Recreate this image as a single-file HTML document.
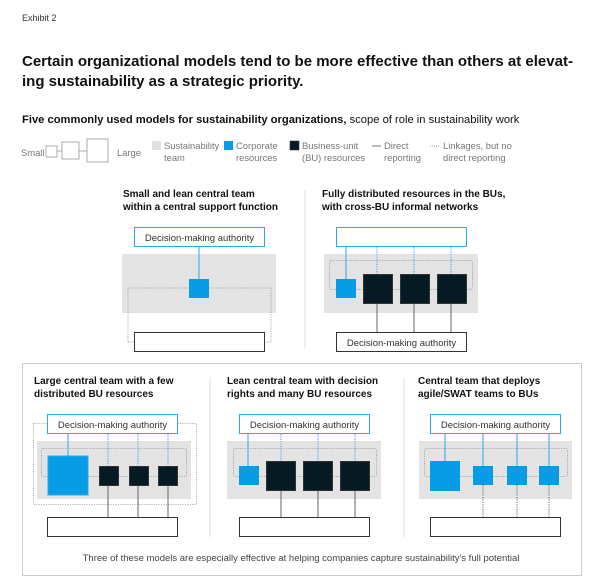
<!DOCTYPE html>
<html><head><meta charset="utf-8"><style>
html,body{margin:0;padding:0;background:#fff}
svg{display:block;font-family:"Liberation Sans",sans-serif}
.t{font-size:10px;font-weight:bold;fill:#111}
.d{font-size:9.5px;fill:#333}
.l{font-size:9.4px;fill:#777}
</style></head><body>
<svg width="600" height="587" viewBox="0 0 600 587">
<text x="22" y="21" font-size="9" fill="#333">Exhibit 2</text>
<text x="22" y="66" font-size="15" font-weight="bold" fill="#111">Certain organizational models tend to be more effective than others at elevat-</text>
<text x="22" y="86" font-size="15" font-weight="bold" fill="#111">ing sustainability as a strategic priority.</text>
<text x="22" y="123" font-size="11.2" fill="#111"><tspan font-weight="bold">Five commonly used models for sustainability organizations,</tspan> scope of role in sustainability work</text>
<!-- legend -->
<g fill="none" stroke="#999" stroke-width="0.8">
<rect x="46" y="146" width="11" height="11"/><line x1="57" y1="151" x2="62" y2="151"/>
<rect x="62" y="142" width="17" height="17"/><line x1="79" y1="151" x2="87" y2="151"/>
<rect x="87" y="139" width="21" height="23"/>
</g>
<text x="21" y="156" class="l">Small</text>
<text x="117" y="156" class="l">Large</text>
<rect x="152" y="141" width="9" height="9" fill="#e0e0e0"/>
<text x="164" y="149" class="l">Sustainability</text><text x="164" y="161" class="l">team</text>
<rect x="224" y="141" width="9" height="9" fill="#069ce6"/>
<text x="236" y="149" class="l">Corporate</text><text x="236" y="161" class="l">resources</text>
<rect x="290" y="141" width="9" height="9" fill="#061a24" stroke="#333" stroke-width="0.6"/>
<text x="302" y="149" class="l">Business-unit</text><text x="302" y="161" class="l">(BU) resources</text>
<line x1="372" y1="146" x2="381" y2="146" stroke="#555" stroke-width="0.8"/>
<text x="384" y="149" class="l">Direct</text><text x="384" y="161" class="l">reporting</text>
<line x1="430" y1="146" x2="440" y2="146" stroke="#888" stroke-width="0.8" stroke-dasharray="1,1"/>
<text x="443" y="149" class="l">Linkages, but no</text><text x="443" y="161" class="l">direct reporting</text>

<!-- Diagram 1 -->
<text x="123" y="197" class="t">Small and lean central team</text>
<text x="123" y="210" class="t">within a central support function</text>
<rect x="122" y="254" width="154" height="59" fill="#e3e3e3"/>
<path d="M128 342 V288 H271 V342 H265" fill="none" stroke="#999" stroke-width="0.8" stroke-dasharray="1.2,1.2"/>
<line x1="128" y1="342" x2="134" y2="342" stroke="#999" stroke-width="0.8" stroke-dasharray="1.2,1.2"/>
<line x1="199" y1="247" x2="199" y2="279" stroke="#2aa9e8" stroke-width="1"/>
<rect x="189" y="279" width="20" height="19" fill="#069ce6"/>
<rect x="134.5" y="227.5" width="130" height="19" fill="#fff" stroke="#2aa9e8"/>
<text x="199.5" y="241" text-anchor="middle" class="d">Decision-making authority</text>
<rect x="134.5" y="332.5" width="130" height="19" fill="#fff" stroke="#333"/>
<line x1="305" y1="190" x2="305" y2="348" stroke="#ddd"/>

<!-- Diagram 2 -->
<text x="322" y="197" class="t">Fully distributed resources in the BUs,</text>
<text x="322" y="210" class="t">with cross-BU informal networks</text>
<rect x="324" y="254" width="154" height="59" fill="#e3e3e3"/>
<rect x="329.5" y="260.5" width="143" height="29" rx="2" fill="none" stroke="#999" stroke-width="0.8" stroke-dasharray="1.2,1.2"/>
<line x1="346" y1="247" x2="346" y2="279" stroke="#2aa9e8"/>
<g stroke="#2aa9e8" stroke-dasharray="1.2,1.2"><line x1="377" y1="247" x2="377" y2="274"/><line x1="414" y1="247" x2="414" y2="274"/><line x1="451" y1="247" x2="451" y2="274"/></g>
<g stroke="#666"><line x1="377" y1="304" x2="377" y2="332"/><line x1="414" y1="304" x2="414" y2="332"/><line x1="451" y1="304" x2="451" y2="332"/></g>
<rect x="336" y="279" width="20" height="19" fill="#069ce6"/>
<g fill="#061a24" stroke="#333"><rect x="363.5" y="274.5" width="29" height="29"/><rect x="400.5" y="274.5" width="29" height="29"/><rect x="437.5" y="274.5" width="29" height="29"/></g>
<rect x="336.5" y="227.5" width="130" height="19" fill="#fff" stroke="#2aa9e8"/>
<rect x="336.5" y="332.5" width="130" height="19" fill="#fff" stroke="#333"/>
<text x="401.5" y="346" text-anchor="middle" class="d">Decision-making authority</text>

<!-- bottom panel -->
<rect x="22.5" y="363.5" width="559" height="212" fill="none" stroke="#ccc"/>
<line x1="210" y1="377" x2="210" y2="537" stroke="#ddd"/>
<line x1="404" y1="377" x2="404" y2="537" stroke="#ddd"/>

<!-- Diagram 3 -->
<text x="34" y="384" class="t">Large central team with a few</text>
<text x="34" y="397" class="t">distributed BU resources</text>
<rect x="33.5" y="423.5" width="163" height="81" fill="none" stroke="#999" stroke-width="0.8" stroke-dasharray="1.2,1.2"/>
<rect x="37" y="441" width="154" height="58" fill="#e3e3e3"/>
<rect x="41.5" y="448.5" width="145" height="28" rx="2" fill="none" stroke="#999" stroke-width="0.8" stroke-dasharray="1.2,1.2"/>
<line x1="68" y1="434" x2="68" y2="456" stroke="#2aa9e8"/>
<g stroke="#2aa9e8" stroke-dasharray="1.2,1.2"><line x1="108" y1="434" x2="108" y2="466"/><line x1="138" y1="434" x2="138" y2="466"/><line x1="168" y1="434" x2="168" y2="466"/></g>
<g stroke="#666"><line x1="108" y1="485" x2="108" y2="517"/><line x1="138" y1="485" x2="138" y2="517"/><line x1="168" y1="485" x2="168" y2="517"/></g>
<rect x="48" y="456" width="40" height="39" fill="#069ce6" stroke="#2aa9e8"/>
<g fill="#061a24" stroke="#333"><rect x="99.5" y="466.5" width="19" height="19"/><rect x="129.5" y="466.5" width="19" height="19"/><rect x="158.5" y="466.5" width="19" height="19"/></g>
<rect x="47.5" y="414.5" width="130" height="19" fill="#fff" stroke="#2aa9e8"/>
<text x="112.5" y="428" text-anchor="middle" class="d">Decision-making authority</text>
<rect x="47.5" y="517.5" width="130" height="19" fill="#fff" stroke="#333"/>

<!-- Diagram 4 -->
<text x="227" y="384" class="t">Lean central team with decision</text>
<text x="227" y="397" class="t">rights and many BU resources</text>
<rect x="227" y="441" width="154" height="58" fill="#e3e3e3"/>
<rect x="233.5" y="448.5" width="143" height="28" rx="2" fill="none" stroke="#999" stroke-width="0.8" stroke-dasharray="1.2,1.2"/>
<line x1="248" y1="434" x2="248" y2="466" stroke="#2aa9e8"/>
<g stroke="#2aa9e8" stroke-dasharray="1.2,1.2"><line x1="281" y1="434" x2="281" y2="461"/><line x1="318" y1="434" x2="318" y2="461"/><line x1="355" y1="434" x2="355" y2="461"/></g>
<g stroke="#666"><line x1="281" y1="491" x2="281" y2="517"/><line x1="318" y1="491" x2="318" y2="517"/><line x1="355" y1="491" x2="355" y2="517"/></g>
<rect x="239" y="466" width="20" height="19" fill="#069ce6"/>
<g fill="#061a24" stroke="#333"><rect x="266.5" y="461.5" width="29" height="29"/><rect x="303.5" y="461.5" width="29" height="29"/><rect x="340.5" y="461.5" width="29" height="29"/></g>
<rect x="239.5" y="414.5" width="130" height="19" fill="#fff" stroke="#2aa9e8"/>
<text x="304.5" y="428" text-anchor="middle" class="d">Decision-making authority</text>
<rect x="239.5" y="517.5" width="130" height="19" fill="#fff" stroke="#333"/>

<!-- Diagram 5 -->
<text x="418" y="384" class="t">Central team that deploys</text>
<text x="418" y="397" class="t">agile/SWAT teams to BUs</text>
<rect x="419" y="441" width="153" height="58" fill="#e3e3e3"/>
<rect x="424.5" y="448.5" width="143" height="28" rx="2" fill="none" stroke="#999" stroke-width="0.8" stroke-dasharray="1.2,1.2"/>
<g stroke="#2aa9e8"><line x1="445" y1="434" x2="445" y2="461"/><line x1="483" y1="434" x2="483" y2="466"/><line x1="517" y1="434" x2="517" y2="466"/><line x1="549" y1="434" x2="549" y2="466"/></g>
<g stroke="#666" stroke-dasharray="1.2,1.2"><line x1="483" y1="485" x2="483" y2="517"/><line x1="517" y1="485" x2="517" y2="517"/><line x1="549" y1="485" x2="549" y2="517"/></g>
<rect x="430" y="461" width="30" height="30" fill="#069ce6"/>
<g fill="#069ce6"><rect x="473" y="466" width="20" height="19"/><rect x="507" y="466" width="20" height="19"/><rect x="539" y="466" width="20" height="19"/></g>
<rect x="430.5" y="414.5" width="130" height="19" fill="#fff" stroke="#2aa9e8"/>
<text x="495.5" y="428" text-anchor="middle" class="d">Decision-making authority</text>
<rect x="430.5" y="517.5" width="130" height="19" fill="#fff" stroke="#333"/>

<text x="301" y="561" text-anchor="middle" font-size="9.5" fill="#444">Three of these models are especially effective at helping companies capture sustainability's full potential</text>
</svg>
</body></html>
